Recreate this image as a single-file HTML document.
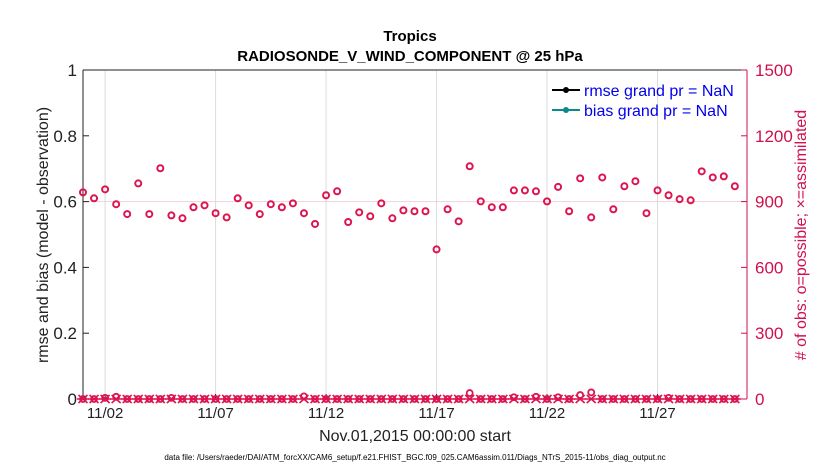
<!DOCTYPE html>
<html><head><meta charset="utf-8"><style>
body{margin:0;background:#fff;width:830px;height:470px;overflow:hidden;font-family:"Liberation Sans",Arial,sans-serif}
svg text{font-family:"Liberation Sans",Arial,sans-serif}
</style></head><body>
<svg id="chart" width="830" height="470" xmlns="http://www.w3.org/2000/svg"></svg>
<script>
const possibleCounts=[942,915,956,888,843,983,843,1052,837,824,874,883,847,828,915,883,843,888,874,892,847,798,929,947,807,851,833,892,824,860,856,856,682,865,810,1061,901,874,874,951,951,947,901,967,856,1006,828,1010,865,970,993,847,951,929,911,906,1038,1010,1015,970];
const lowPossible=[0,0,5,10,0,0,0,0,5,0,0,0,0,0,0,0,0,0,0,0,12,0,0,0,0,0,0,0,0,0,0,0,0,0,0,27,0,0,0,8,0,10,0,8,0,18,30,0,0,0,0,0,0,5,0,0,0,0,0,0];
const assimilatedCounts=new Array(60).fill(0);
const xTickLabels=["11/02","11/07","11/12","11/17","11/22","11/27"];
const xTickDays=[1,6,11,16,21,26];
const leftTicks=[0,0.2,0.4,0.6,0.8,1];
const rightTicks=[0,300,600,900,1200,1500];

const svg=document.getElementById('chart');
const NS='http://www.w3.org/2000/svg';
const L=83,R=747,T=70,B=399,d0=0,d1=30.05;
const xs=d=>L+(d-d0)/(d1-d0)*(R-L);
const yl=v=>B-v*(B-T);
const yr=v=>B-v/1500*(B-T);
function mk(tag,attrs,txt){const e=document.createElementNS(NS,tag);for(const k in attrs)e.setAttribute(k,attrs[k]);if(txt!==undefined)e.textContent=txt;svg.appendChild(e);return e;}

let e;
xTickDays.forEach((d,i)=>{
 e=mk('line',{x1:xs(d),x2:xs(d),y1:T,y2:B,stroke:'#dcdcdc','stroke-width':1});
 
 
 e=mk('line',{x1:xs(d),x2:xs(d),y1:B,y2:B-5,stroke:'#222'});
 
 
 e=mk('text',{x:xs(d),y:B+19,'text-anchor':'middle','font-size':15,fill:'#222'},xTickLabels[i]);
 
 
});
e=mk('line',{x1:L,x2:R,y1:yr(900),y2:yr(900),stroke:'#f2d0dc','stroke-width':1});


e=mk('line',{x1:L,x2:R,y1:T,y2:T,stroke:'#222'});
e=mk('line',{x1:L,x2:R,y1:B,y2:B,stroke:'#222'});
e=mk('line',{x1:L,x2:L,y1:T,y2:B,stroke:'#222'});
e=mk('line',{x1:R,x2:R,y1:T,y2:B,stroke:'#d0104c'});
leftTicks.forEach(v=>{
 e=mk('line',{x1:L,x2:L+6,y1:yl(v),y2:yl(v),stroke:'#222'});
 e=mk('text',{x:L-6,y:yl(v)+6,'text-anchor':'end','font-size':17,fill:'#222'},String(v));
});
rightTicks.forEach(v=>{
 e=mk('line',{x1:R-6,x2:R,y1:yr(v),y2:yr(v),stroke:'#d0104c'});
 e=mk('text',{x:R+8,y:yr(v)+6,'text-anchor':'start','font-size':17,fill:'#d0104c'},String(v));
});
assimilatedCounts.forEach((v,i)=>{
 const x=xs(i*0.5),y=yr(v);
 e=mk('path',{d:`M${x-4.5},${y-4}L${x+4.5},${y+4}M${x-4.5},${y+4}L${x+4.5},${y-4}M${x-6},${y}L${x+6},${y}`,stroke:'#dc1450','stroke-width':1.6});
 
});
lowPossible.forEach((v,i)=>{
 e=mk('circle',{cx:xs(i*0.5),cy:yr(v),r:3,fill:'none',stroke:'#dc1450','stroke-width':1.8});
 
});
possibleCounts.forEach((v,i)=>{
 e=mk('circle',{cx:xs(i*0.5),cy:yr(v),r:3,fill:'none',stroke:'#dc1450','stroke-width':2});
 
});
e=mk('text',{x:410,y:41,'text-anchor':'middle','font-size':15,'font-weight':'bold',fill:'#000'},'Tropics');
e=mk('text',{x:410,y:61,'text-anchor':'middle','font-size':15,'font-weight':'bold',fill:'#000'},'RADIOSONDE_V_WIND_COMPONENT @ 25 hPa');
e=mk('text',{x:415,y:441,'text-anchor':'middle','font-size':16,fill:'#222'},'Nov.01,2015 00:00:00 start');
e=mk('text',{x:415,y:460,'text-anchor':'middle','font-size':8,fill:'#000'},'data file: /Users/raeder/DAI/ATM_forcXX/CAM6_setup/f.e21.FHIST_BGC.f09_025.CAM6assim.011/Diags_NTrS_2015-11/obs_diag_output.nc');
e=mk('text',{x:0,y:0,'text-anchor':'middle','font-size':16,fill:'#222',transform:'translate(48,235) rotate(-90)'},'rmse and bias (model - observation)');
e=mk('text',{x:0,y:0,'text-anchor':'middle','font-size':16,fill:'#d0104c',transform:'translate(806,235) rotate(-90)'},'# of obs: o=possible; ×=assimilated');
e=mk('line',{x1:552,x2:580,y1:90,y2:90,stroke:'#000','stroke-width':2});
e=mk('circle',{cx:566,cy:90,r:3,fill:'#000'});
e=mk('text',{x:584,y:96,'font-size':16,fill:'#0000ee'},'rmse grand pr = NaN');
e=mk('line',{x1:552,x2:580,y1:110,y2:110,stroke:'#0a8a8a','stroke-width':2});
e=mk('circle',{cx:566,cy:110,r:3,fill:'#0a8a8a'});
e=mk('text',{x:584,y:116,'font-size':16,fill:'#0000ee'},'bias grand pr = NaN');
</script>
</body></html>
